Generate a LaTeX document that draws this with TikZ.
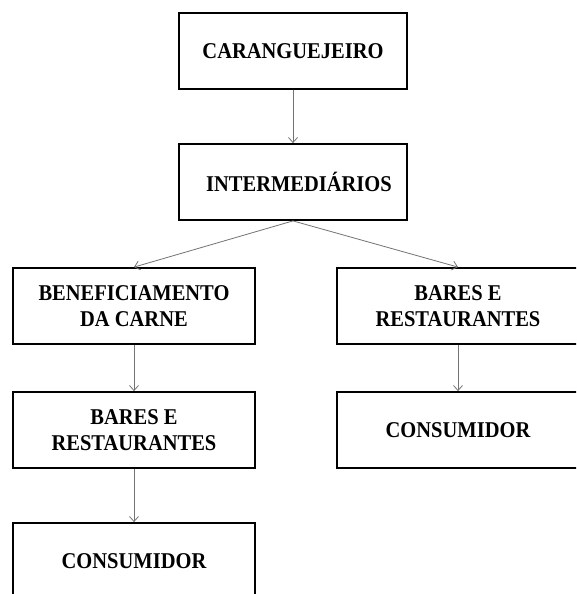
\documentclass[tikz,border=0pt]{standalone}
\usepackage{graphicx}
\usepackage{fontspec}
\setmainfont{Liberation Serif}
\usetikzlibrary{arrows.meta,calc}
\newcommand{\tallline}[1]{\scalebox{1}[1.1]{#1}}
\begin{document}
\begin{tikzpicture}[x=1pt,y=-1pt,
  box/.style={draw=black,line width=1.8pt,rectangle,inner sep=0pt,align=center,
    font=\fontsize{20.5}{26}\selectfont\bfseries},
  conn/.style={draw=black!55,line width=0.8pt,-{Straight Barb[length=5pt,width=9pt,line width=0.8pt]}}]
\clip (0,0) rectangle (576,594);
\fill[white] (0,0) rectangle (576,594);
\node[box,minimum width=228,minimum height=76] (car) at (293,51) {\tallline{CARANGUEJEIRO}};
\node[box,minimum width=228,minimum height=76] (int) at (293,182) {\hspace{12pt}\tallline{INTERMEDIÁRIOS}};
\node[box,minimum width=242,minimum height=76] (ben) at (134,306) {\tallline{BENEFICIAMENTO}\\\tallline{DA CARNE}};
\node[box,minimum width=242,minimum height=76] (bar1) at (458,306) {\tallline{BARES E}\\\tallline{RESTAURANTES}};
\node[box,minimum width=242,minimum height=76] (bar2) at (134,430) {\tallline{BARES E}\\\tallline{RESTAURANTES}};
\node[box,minimum width=242,minimum height=76] (con2) at (458,430) {\tallline{CONSUMIDOR}};
\node[box,minimum width=242,minimum height=76] (con1) at (134,561) {\tallline{CONSUMIDOR}};
\draw[conn] (car.south) -- (int.north);
\draw[conn] (int.south) -- (ben.north);
\draw[conn] (int.south) -- (bar1.north);
\draw[conn] (ben.south) -- (bar2.north);
\draw[conn] (bar1.south) -- (con2.north);
\draw[conn] (bar2.south) -- (con1.north);
\end{tikzpicture}
\end{document}
